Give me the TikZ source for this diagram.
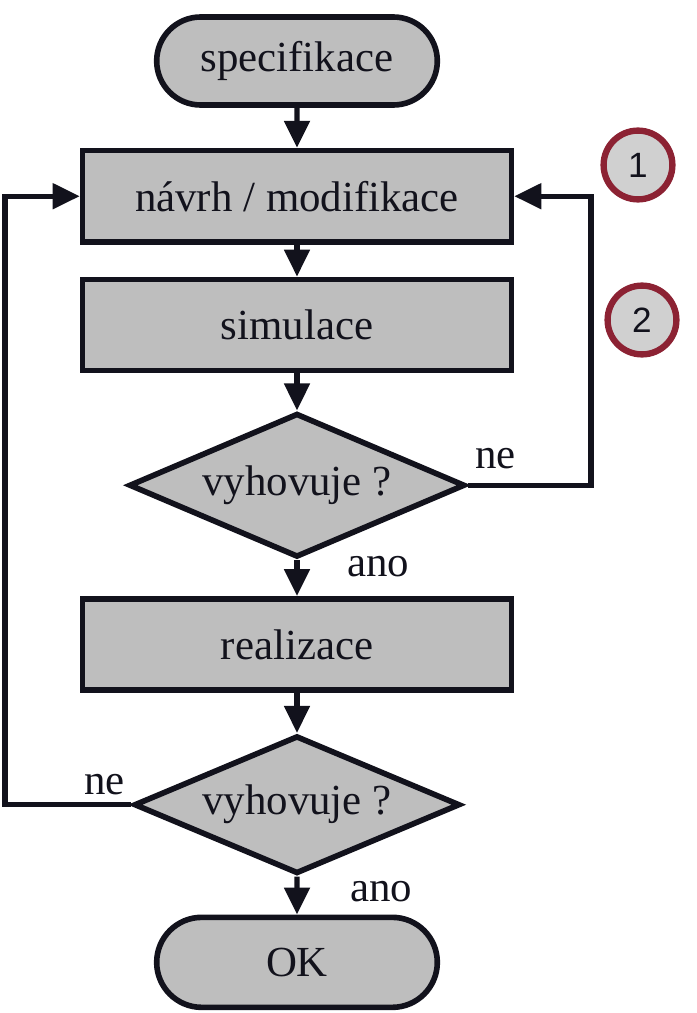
\documentclass[tikz,border=0pt]{standalone}
\usepackage{fontspec}
\setmainfont{Liberation Serif}
\newfontfamily\marksans{Liberation Sans}
\usepackage{tikz}
\usetikzlibrary{arrows.meta,positioning,shapes.geometric,shapes.misc}
\definecolor{FCgray}{HTML}{BEBEBE}
\definecolor{FCline}{HTML}{12121C}
\definecolor{FCred}{HTML}{8C2233}
\definecolor{FCmark}{HTML}{D0D0D0}
\tikzset{
  fc/terminal/.style={draw=FCline, fill=FCgray, line width=4pt, rounded rectangle, minimum width=7.25cm, minimum height=2.2cm, align=center},
  fc/process/.style={draw=FCline, fill=FCgray, line width=4pt, rectangle, minimum width=10.725cm, minimum height=2.28cm, align=center},
  fc/decision/.style={draw=FCline, fill=FCgray, line width=4pt, diamond, aspect=2.45, inner sep=0pt, minimum width=8.4cm, minimum height=3.6cm, align=center},
  fc/mark/.style={draw=FCred, fill=FCmark, line width=4.5pt, circle, inner sep=0pt, minimum size=1.72cm, font=\marksans\fontsize{25}{30}\selectfont},
  arr/.style={-{Triangle[length=6.75mm,width=6.25mm]}, draw=FCline, line width=3.6pt},
  lbl/.style={inner sep=0pt}
}

\begin{document}
\begin{tikzpicture}[
  every node/.style={font=\fontsize{30.5}{36}\selectfont, text=FCline}
]
\useasboundingbox (-7.425,1.525) rectangle (9.975,-23.8);

\node[fc/terminal] (spec) at (0,0) {specifikace};
\node[fc/process, below=10mm of spec] (navrh) {návrh / modifikace};
\node[fc/process, below=8mm of navrh] (sim) {simulace};
\node[fc/decision, below=9.25mm of sim] (vyh1) {vyhovuje ?};
\node[fc/process, below=9mm of vyh1] (real) {realizace};
\node[fc/decision, minimum width=8.15cm, minimum height=3.45cm, below=10mm of real] (vyh2) {vyhovuje ?};
\node[fc/terminal, minimum height=2.25cm, below=9.5mm of vyh2] (ok) {OK};

\coordinate (rloop) at (7.35,0);
\coordinate (lloop) at (-7.3,0);

\draw[arr] (spec) -- (navrh);
\draw[arr] (navrh) -- (sim);
\draw[arr] (sim) -- (vyh1);
\draw[arr] (vyh1) -- (real);
\draw[arr] (real) -- (vyh2);
\draw[arr] (vyh2) -- (ok);

% zpetne vetve
\draw[arr] (vyh1.east) -| (rloop |- navrh.east) -- (navrh.east);
\draw[arr] (vyh2.west) -| (lloop |- navrh.west) -- (navrh.west);

\node[lbl, anchor=base west, xshift=1.75mm, yshift=4.25mm] (ne1) at (vyh1.east) {ne};
\node[lbl, anchor=base west, xshift=12.5mm, yshift=-4mm] (ano1) at (vyh1.south) {ano};
\node[lbl, anchor=base east, xshift=-1.5mm, yshift=2.5mm] (ne2) at (vyh2.west) {ne};
\node[lbl, anchor=base west, xshift=13.25mm, yshift=-6.25mm] (ano2) at (vyh2.south) {ano};

\node[fc/mark] (m1) at (8.525,-2.6) {1};
\node[fc/mark] (m2) at (8.625,-6.475) {2};

\end{tikzpicture}
\end{document}
